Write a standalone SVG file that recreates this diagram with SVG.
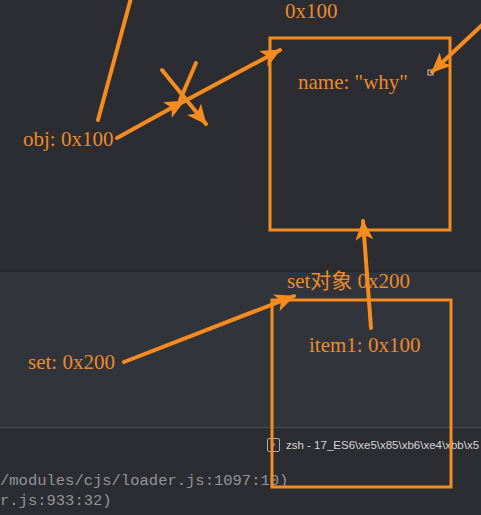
<svg xmlns="http://www.w3.org/2000/svg" width="481" height="515" viewBox="0 0 481 515">
<style>
.ln{stroke:#f68b1f;stroke-width:4;stroke-linecap:round;fill:none}
.box{stroke:#f68b1f;stroke-width:3;fill:none}
.t{font-family:"Liberation Serif","Noto Sans CJK SC",serif;font-size:21px;fill:#ec8a2a}
.term{font-family:"Liberation Mono","DejaVu Sans Mono",monospace;font-size:15.5px;fill:#929498}
.tab{font-family:"Liberation Sans",Arial,sans-serif;font-size:11.5px;fill:#d4d5d8}
</style>
<defs>
<marker id="ah" markerUnits="userSpaceOnUse" markerWidth="22" markerHeight="20" refX="19" refY="9" orient="auto">
<path d="M0,0 L20,9 L0,18 L5,9 z" fill="#f68b1f"/>
</marker>
</defs>
<g id="background">
<rect x="0" y="0" width="481" height="515" fill="#2b2d32"/>
<rect x="0" y="271" width="481" height="156" fill="#31343a"/>
<rect x="0" y="270" width="481" height="2" fill="#26282c"/>
<rect x="0" y="427" width="481" height="1" fill="#4a4c51"/>
<text class="term" x="0" y="485">/modules/cjs/loader.js:1097:10)</text>
<text class="term" x="0" y="505">r.js:933:32)</text>
<rect x="267.5" y="438.5" width="12" height="13" rx="1.5" fill="none" stroke="#aaacb0" stroke-width="1"/>
<path d="M272,442 l3,2.5 l-3,2.5" stroke="#aaacb0" stroke-width="1" fill="none"/>
<text class="tab" x="286" y="449">zsh - 17_ES6\xe5\x85\xb6\xe4\xbb\x5</text>
</g>
<g id="obj-node">
<rect class="box" x="270" y="38" width="180" height="192"/>
<text class="t" x="285" y="18">0x100</text>
<text class="t" x="298" y="89">name: "why"</text>
<rect x="428" y="70" width="5" height="5" fill="none" stroke="#c8c8c8" stroke-width="1"/>
</g>
<g id="set-node">
<rect class="box" x="272" y="300" width="179" height="187"/>
<text class="t" x="287" y="288">set对象 0x200</text>
<text class="t" x="309" y="352">item1: 0x100</text>
</g>
<g id="obj-label">
<text class="t" x="23" y="146">obj: 0x100</text>
</g>
<g id="set-label">
<text class="t" x="28" y="369">set: 0x200</text>
</g>
<g id="connectors">
<line class="ln" x1="131" y1="-2" x2="98" y2="120"/>
<line class="ln" x1="117" y1="138" x2="184" y2="101" marker-end="url(#ah)"/>
<line class="ln" x1="181" y1="103" x2="280" y2="50" marker-end="url(#ah)"/>
<line class="ln" x1="162" y1="70" x2="206" y2="124" marker-end="url(#ah)"/>
<line class="ln" x1="196" y1="63" x2="180" y2="100"/>
<line class="ln" x1="483" y1="24" x2="432" y2="72" marker-end="url(#ah)"/>
<line class="ln" x1="124" y1="362" x2="294" y2="296" marker-end="url(#ah)"/>
<line class="ln" x1="371" y1="328" x2="363" y2="221" marker-end="url(#ah)"/>
</g>
</svg>
